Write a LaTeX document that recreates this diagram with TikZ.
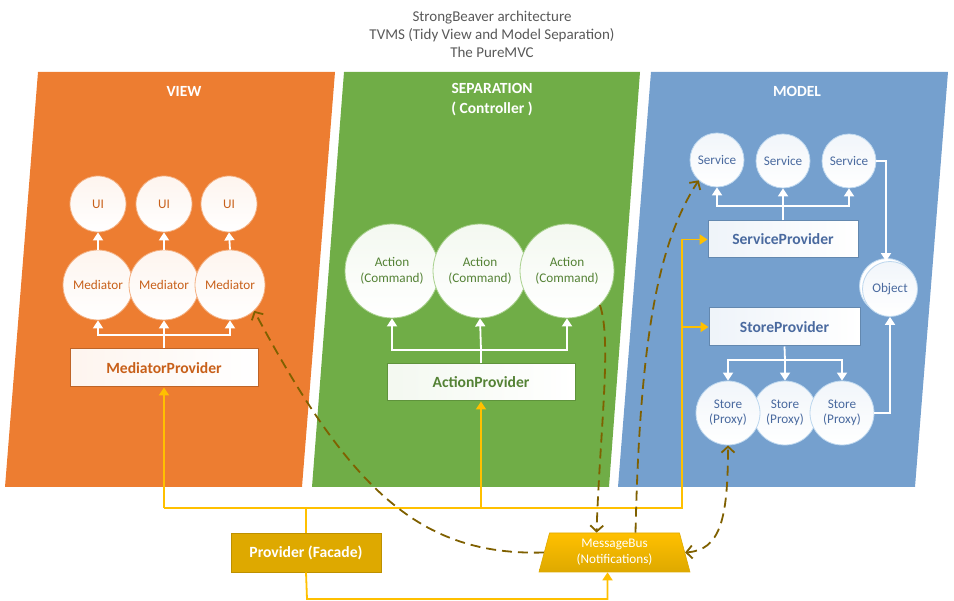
\documentclass[tikz,border=0pt]{standalone}
\usepackage{fontspec}
\setmainfont{Carlito}
\usetikzlibrary{arrows.meta,shapes.geometric,shadings}
\definecolor{cOrange}{HTML}{ED7D31}
\definecolor{cGreen}{HTML}{70AD47}
\definecolor{cBlue}{HTML}{75A0CE}
\definecolor{cGold}{HTML}{DEA900}
\definecolor{cYellow}{HTML}{FFC000}
\definecolor{cBrown}{HTML}{7F6000}
\definecolor{cGray}{HTML}{595959}
\definecolor{tOrange}{HTML}{C8601A}
\definecolor{tGreen}{HTML}{548235}
\definecolor{tBlue}{HTML}{4A6A9F}
\definecolor{bOrange}{HTML}{F4B183}
\definecolor{bGreen}{HTML}{A9D18E}
\definecolor{bBlue}{HTML}{BDD7EE}
\begin{document}
\begin{tikzpicture}[x=1pt,y=-1pt,
  lbl/.style={font=\fontsize{13.2}{15.5}\selectfont, align=center, inner sep=0pt},
  ptitle/.style={font=\fontsize{15.5}{20}\selectfont\bfseries, text=white, align=center},
  vcirc/.style={circle, draw=bOrange, line width=0.8, top color=cOrange!8, bottom color=white, text=tOrange, lbl},
  gcirc/.style={circle, draw=bGreen, line width=0.8, top color=cGreen!8, bottom color=white, text=tGreen, lbl},
  bcirc/.style={circle, draw=bBlue, line width=0.8, top color=cBlue!10, bottom color=white, text=tBlue, lbl},
  vbox/.style={rectangle, draw=cOrange!80!black, line width=1, left color=cOrange!8, right color=white, text=tOrange, font=\fontsize{15.6}{17}\selectfont\bfseries, inner sep=0pt},
  gbox/.style={rectangle, draw=cGreen!85!black, line width=1, left color=cGreen!8, right color=white, text=tGreen, font=\fontsize{15.6}{17}\selectfont\bfseries, inner sep=0pt},
  bbox/.style={rectangle, draw=cBlue!85!black, line width=1, left color=cBlue!12, right color=white, text=tBlue, font=\fontsize{15.6}{17}\selectfont\bfseries, inner sep=0pt},
  wline/.style={draw=white, line width=1.8},
  warrow/.style={wline, -{Triangle[length=8pt,width=10pt]}},
  yline/.style={draw=cYellow, line width=1.8},
  yarrow/.style={yline, -{Triangle[length=8pt,width=10pt]}},
  darrow/.style={draw=cBrown, line width=1.8, dash pattern=on 10pt off 6pt, -{Straight Barb[length=6pt,width=13pt]}},
]
\useasboundingbox (0,0) rectangle (954,601);

% panels
\fill[cOrange] (38,72) -- (335,72) -- (302,487) -- (5,487) -- cycle;
\fill[cGreen] (344,72) -- (640,72) -- (609,487) -- (312,487) -- cycle;
\fill[cBlue] (651,72) -- (948,72) -- (915,487) -- (618,487) -- cycle;

% title
\node[font=\fontsize{15}{18}\selectfont, text=cGray, align=center] (title) at (492,34)
  {StrongBeaver architecture\\TVMS (Tidy View and Model Separation)\\The PureMVC};

\node[ptitle] (tview) at (184,91) {VIEW};
\node[ptitle] (tsep) at (492,100) {SEPARATION\\( Controller )};
\node[ptitle] (tmodel) at (797,91) {MODEL};

% VIEW
\node[vcirc, minimum size=56] (ui1) at (98,204) {UI};
\node[vcirc, minimum size=56] (ui2) at (164,204) {UI};
\node[vcirc, minimum size=56] (ui3) at (229,204) {UI};
\node[vcirc, minimum size=70] (med1) at (98,285) {Mediator};
\node[vcirc, minimum size=70] (med2) at (164,285) {Mediator};
\node[vcirc, minimum size=70] (med3) at (230,285) {Mediator};
\node[vbox, minimum width=188, minimum height=38] (mp) at (164,368) {MediatorProvider};
\draw[warrow] (med1.north) -- (ui1.south);
\draw[warrow] (med2.north) -- (ui2.south);
\draw[warrow] (med3.north) -- (ui3.south);
\coordinate (mpj) at (164,335);
\draw[wline] (mp.north) -- (mpj);
\draw[warrow] (mpj) -| (med1.south);
\draw[warrow] (mpj) -| (med3.south);
\draw[warrow] (mpj) -- (med2.south);

% SEPARATION
\node[gcirc, minimum size=94] (act1) at (392,271) {Action\\(Command)};
\node[gcirc, minimum size=94] (act2) at (480,271) {Action\\(Command)};
\node[gcirc, minimum size=94] (act3) at (567,271) {Action\\(Command)};
\node[gbox, minimum width=188, minimum height=37] (ap) at (481,382.5) {ActionProvider};
\coordinate (apj) at (481,350);
\draw[wline] (ap.north) -- (apj);
\draw[warrow] (apj) -| (act1.south);
\draw[warrow] (apj) -| (act3.south);
\draw[warrow] (apj) -- (act2.south);

% MODEL
\node[bcirc, minimum size=54] (svc1) at (717,160) {Service};
\node[bcirc, minimum size=54] (svc2) at (783,161) {Service};
\node[bcirc, minimum size=54] (svc3) at (849,161) {Service};
\node[bbox, minimum width=150, minimum height=37] (sp) at (783,239.5) {ServiceProvider};
\coordinate (spj) at (783,206);
\draw[wline] (sp.north) -- (spj);
\draw[warrow] (spj) -| (svc1.south);
\draw[warrow] (spj) -| (svc3.south);
\draw[warrow] (spj) -- (svc2.south);

\node[circle, draw=bBlue, line width=0.8, fill=white, minimum size=55] (objback) at (887,286) {};
\node[bcirc, minimum size=55] (obj) at (890,289) {Object};

\node[bbox, minimum width=151, minimum height=38] (stp) at (784.5,327) {StoreProvider};
\node[bcirc, minimum size=64] (st2) at (785,413) {Store\\(Proxy)};
\node[bcirc, minimum size=64] (st1) at (728,413) {Store\\(Proxy)};
\node[bcirc, minimum size=64] (st3) at (842,413) {Store\\(Proxy)};
\coordinate (stj) at (785,360);
\draw[wline] (stp.south) -- (stj);
\draw[warrow] (stj) -| (st1.north);
\draw[warrow] (stj) -| (st3.north);
\draw[warrow] (stj) -- (st2.north);

\draw[warrow] (svc3.east) -| ([xshift=-4]obj.north);
\draw[warrow] (st3.east) -| (obj.south);

% bottom
\node[rectangle, draw=cGold!85!black, line width=0.6, fill=cGold, text=white, font=\fontsize{15.6}{17}\selectfont\bfseries, minimum width=150, minimum height=39] (pf) at (306,552.5) {Provider (Facade)};
\node[trapezium, trapezium angle=69.6, trapezium stretches body, minimum width=151, minimum height=39, draw=cGold, line width=0.6, top color=cYellow, bottom color=cGold, text=white, font=\fontsize{13.2}{16}\selectfont, align=center, inner sep=1pt] (mb) at (614.5,552.5) {MessageBus\\(Notifications)};

% yellow connectors
\coordinate (jL) at (164,508);
\coordinate (jR) at (682,508);
\coordinate (jP) at (pf.north |- jL);
\coordinate (jA) at (ap.south |- jL);
\coordinate (jS) at (682,239.5);
\coordinate (jT) at (682,327);
\coordinate (jB) at (307,599);
\draw[yline] (pf.north) -- (jP);
\draw[yline] (jL) -- (jR) -- (jS);
\draw[yarrow] (jL) -- (mp.south);
\draw[yarrow] (jA) -- (ap.south);
\draw[yarrow] (jS) -- (sp.west);
\draw[yarrow] (jT) -- (stp.west);
\draw[yarrow] (pf.south) -- (jB) -| ([xshift=-7]mb.south);

% dashed message connectors
\draw[darrow] (mb.west) .. controls (420,556) and (350,490) .. (med3.-47);
\draw[darrow] (act3.-46) .. controls (612,340) and (600,430) .. ([xshift=-18]mb.north);
\draw[darrow] ([xshift=21]mb.north) .. controls (640,330) and (660,240) .. (svc1.-132);
\draw[darrow, {Straight Barb[length=6pt,width=13pt]}-{Straight Barb[length=6pt,width=13pt]}] (mb.east) .. controls (720,550) and (728,520) .. (st1.south);

\end{tikzpicture}
\end{document}
